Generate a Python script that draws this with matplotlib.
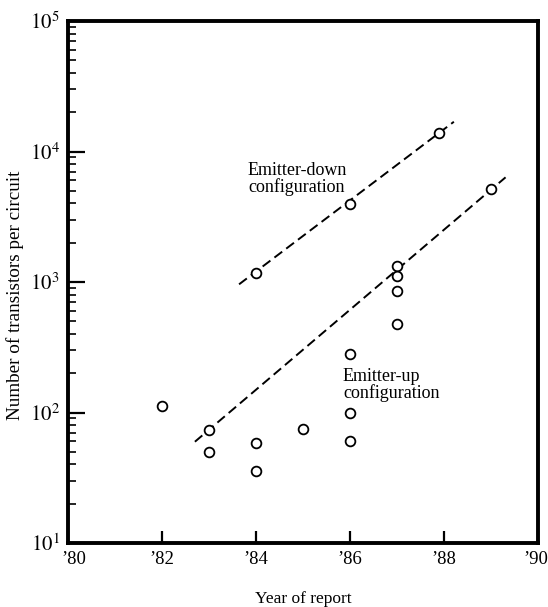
import matplotlib
matplotlib.use("Agg")
import matplotlib.pyplot as plt
from matplotlib.ticker import LogLocator, NullFormatter

plt.rcParams['font.family'] = ['Liberation Serif', 'DejaVu Serif']
plt.rcParams['mathtext.fontset'] = 'stix'

# emitter-down points
ed_years = [84, 86, 87.9]
ed_counts = [1166, 3960, 13780]
# emitter-up points
eu_years = [82, 83, 83, 84, 84, 85, 86, 86, 86, 87, 87, 87, 87, 89]
eu_counts = [113, 73.5, 49.5, 58, 35.8, 74.8, 100, 60.5, 279, 1327, 1117, 858, 477, 5160]
# dashed trend lines (end points)
ed_fit_years = [83.64, 88.21]
ed_fit_counts = [960, 16900]
eu_fit_years = [82.70, 89.31]
eu_fit_counts = [59.7, 6340]

xticks = [80, 82, 84, 86, 88, 90]
xticklabels = ["\u2019" + str(v) for v in xticks]
yticks = [1e1, 1e2, 1e3, 1e4, 1e5]
yticklabels = [r"$10^{%d}$" % p for p in range(1, 6)]

fig = plt.figure(figsize=(5.48, 6.07), dpi=100)
ax = fig.add_axes([68 / 548, 64 / 607, 470 / 548, 522 / 607])

dash = dict(color='black', lw=1.4, dashes=(5, 2.6), zorder=2)
ax.plot(ed_fit_years, ed_fit_counts, **dash)
ax.plot(eu_fit_years, eu_fit_counts, **dash)

mk = dict(ls='none', marker='o', ms=7, mfc='white', mec='black', mew=1.3, zorder=3)
ax.plot(ed_years, ed_counts, **mk)
ax.plot(eu_years, eu_counts, **mk)

ax.set_yscale('log')
ax.set_xlim(80, 90)
ax.set_ylim(10, 1e5)

# end labels are drawn by hand so they sit a bit inside, as in the original
ax.set_xticks(xticks)
ax.set_xticklabels([""] + xticklabels[1:-1] + [""], fontsize=13.5)
for x, lab, dx in [(xticks[0], xticklabels[0], 4.5), (xticks[-1], xticklabels[-1], -1.5)]:
    ax.annotate(lab, xy=(x, 0), xycoords=('data', 'axes fraction'), xytext=(dx, -6),
                textcoords='offset points', ha='center', va='top', fontsize=13.5)

ax.set_yticks(yticks)
ax.set_yticklabels(yticklabels, fontsize=15)
ax.yaxis.set_minor_locator(LogLocator(base=10, subs=[2, 3, 4, 5, 6, 7, 8, 9], numticks=20))
ax.yaxis.set_minor_formatter(NullFormatter())

ax.tick_params(axis='both', which='major', direction='in', length=12, width=1.6,
               top=False, right=False, pad=6, color='black')
ax.tick_params(axis='y', which='minor', direction='in', length=6, width=1.2)
ax.tick_params(axis='x', which='major', length=9)

for s in ax.spines.values():
    s.set_linewidth(2.8)

ax.text(83.83, 8300, "Emitter-down\nconfiguration", fontsize=13, va='top', ha='left',
        linespacing=0.95)
ax.text(85.85, 219, "Emitter-up\nconfiguration", fontsize=13, va='top', ha='left',
        linespacing=0.95)

ax.set_xlabel("Year of report", fontsize=12.5)
ax.xaxis.set_label_coords(0.5, -0.092)
ax.set_ylabel("Number of transistors per circuit", fontsize=13.8)
ax.yaxis.set_label_coords(-0.094, 0.475)

fig.savefig("out.png", dpi=100)
